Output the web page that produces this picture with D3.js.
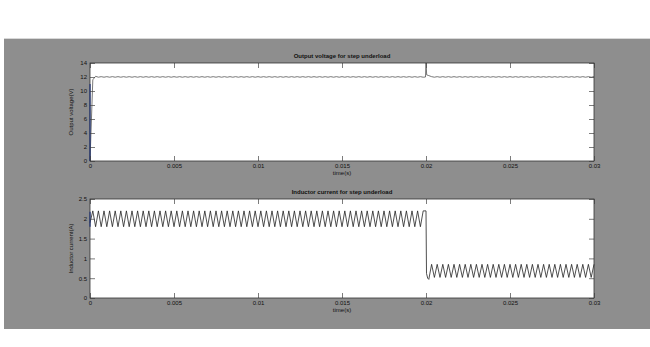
<!DOCTYPE html>
<html>
<head>
<meta charset="utf-8">
<script src="https://cdn.jsdelivr.net/npm/d3@7"></script>
<style>
  body { margin: 0; background: #fff; }
  svg { display: block; font-family: "Liberation Sans", Arial, sans-serif; }
</style>
</head>
<body>
<svg id="chart" width="650" height="347"></svg>
<script>
// simulation samples, one per half switching period
const sampleStep = 0.03 / 180;
const xTicks = [0, 0.005, 0.01, 0.015, 0.02, 0.025, 0.03];
const voltageTicks = [0, 2, 4, 6, 8, 10, 12, 14];
const currentTicks = [0, 0.5, 1, 1.5, 2, 2.5];

const voltage = [
  0, 11.6, 12.1, 11.97, 12.05, 11.97, 12.05, 11.97, 12.05, 11.97, 12.05, 11.97, 12.05, 11.97, 12.05, 11.97, 12.05, 11.97, 12.05, 11.97,
  12.05, 11.97, 12.05, 11.97, 12.05, 11.97, 12.05, 11.97, 12.05, 11.97, 12.05, 11.97, 12.05, 11.97, 12.05, 11.97, 12.05, 11.97, 12.05, 11.97,
  12.05, 11.97, 12.05, 11.97, 12.05, 11.97, 12.05, 11.97, 12.05, 11.97, 12.05, 11.97, 12.05, 11.97, 12.05, 11.97, 12.05, 11.97, 12.05, 11.97,
  12.05, 11.97, 12.05, 11.97, 12.05, 11.97, 12.05, 11.97, 12.05, 11.97, 12.05, 11.97, 12.05, 11.97, 12.05, 11.97, 12.05, 11.97, 12.05, 11.97,
  12.05, 11.97, 12.05, 11.97, 12.05, 11.97, 12.05, 11.97, 12.05, 11.97, 12.05, 11.97, 12.05, 11.97, 12.05, 11.97, 12.05, 11.97, 12.05, 11.97,
  12.05, 11.97, 12.05, 11.97, 12.05, 11.97, 12.05, 11.97, 12.05, 11.97, 12.05, 11.97, 12.05, 11.97, 12.05, 11.97, 12.05, 11.97, 12.05, 11.97,
  14.0, 12.2, 12.05, 11.97, 12.05, 11.97, 12.05, 11.97, 12.05, 11.97, 12.05, 11.97, 12.05, 11.97, 12.05, 11.97, 12.05, 11.97, 12.05, 11.97,
  12.05, 11.97, 12.05, 11.97, 12.05, 11.97, 12.05, 11.97, 12.05, 11.97, 12.05, 11.97, 12.05, 11.97, 12.05, 11.97, 12.05, 11.97, 12.05, 11.97,
  12.05, 11.97, 12.05, 11.97, 12.05, 11.97, 12.05, 11.97, 12.05, 11.97, 12.05, 11.97, 12.05, 11.97, 12.05, 11.97, 12.05, 11.97, 12.05, 11.97,
  12.05
];

const current = [
  1.9, 2.2, 1.8, 2.2, 1.8, 2.2, 1.8, 2.2, 1.8, 2.2, 1.8, 2.2, 1.8, 2.2, 1.8, 2.2, 1.8, 2.2, 1.8, 2.2,
  1.8, 2.2, 1.8, 2.2, 1.8, 2.2, 1.8, 2.2, 1.8, 2.2, 1.8, 2.2, 1.8, 2.2, 1.8, 2.2, 1.8, 2.2, 1.8, 2.2,
  1.8, 2.2, 1.8, 2.2, 1.8, 2.2, 1.8, 2.2, 1.8, 2.2, 1.8, 2.2, 1.8, 2.2, 1.8, 2.2, 1.8, 2.2, 1.8, 2.2,
  1.8, 2.2, 1.8, 2.2, 1.8, 2.2, 1.8, 2.2, 1.8, 2.2, 1.8, 2.2, 1.8, 2.2, 1.8, 2.2, 1.8, 2.2, 1.8, 2.2,
  1.8, 2.2, 1.8, 2.2, 1.8, 2.2, 1.8, 2.2, 1.8, 2.2, 1.8, 2.2, 1.8, 2.2, 1.8, 2.2, 1.8, 2.2, 1.8, 2.2,
  1.8, 2.2, 1.8, 2.2, 1.8, 2.2, 1.8, 2.2, 1.8, 2.2, 1.8, 2.2, 1.8, 2.2, 1.8, 2.2, 1.8, 2.2, 1.8, 2.2,
  2.2, 0.47, 0.85, 0.52, 0.85, 0.52, 0.85, 0.52, 0.85, 0.52, 0.85, 0.52, 0.85, 0.52, 0.85, 0.52, 0.85, 0.52, 0.85, 0.52,
  0.85, 0.52, 0.85, 0.52, 0.85, 0.52, 0.85, 0.52, 0.85, 0.52, 0.85, 0.52, 0.85, 0.52, 0.85, 0.52, 0.85, 0.52, 0.85, 0.52,
  0.85, 0.52, 0.85, 0.52, 0.85, 0.52, 0.85, 0.52, 0.85, 0.52, 0.85, 0.52, 0.85, 0.52, 0.85, 0.52, 0.85, 0.52, 0.85, 0.52,
  0.85
];

// extra fine samples around the load step at t = 0.02
const voltageStepTimes = [0.01997, 0.02004];
const voltageStepValues = [12.0, 12.3];
const currentStepTimes = [0.02003, 0.0201];
const currentStepValues = [0.62, 0.5];

// blue start-up trace at t = 0
const voltageStart = [0, 11];
const currentStart = [1.8, 2.18];

const svg = d3.select('#chart');

svg.append('rect')
  .attr('x', 4).attr('y', 39)
  .attr('width', 646).attr('height', 290)
  .attr('fill', '#8e8e8e');
svg.append('line')
  .attr('x1', 4).attr('x2', 650).attr('y1', 38.5).attr('y2', 38.5)
  .attr('stroke', '#d8d8d8');

const left = 90, right = 594;

const xScale = d3.scaleLinear().domain([0, 0.03]).range([left, right]);
const fmt = d3.format('~g');

function samples(values, extraTimes, extraValues) {
  const pts = values.map((v, i) => ({ t: i * sampleStep, v }));
  extraTimes.forEach((t, i) => pts.push({ t, v: extraValues[i] }));
  return pts.sort((a, b) => a.t - b.t);
}

function drawPanel(cfg) {
  const yScale = d3.scaleLinear().domain(cfg.domain).range([cfg.bottom, cfg.top]);
  const g = svg.append('g');

  g.append('rect')
    .attr('x', left).attr('y', cfg.top)
    .attr('width', right - left).attr('height', cfg.bottom - cfg.top)
    .attr('fill', '#fff');

  const line = d3.line()
    .x(d => xScale(d.t))
    .y(d => yScale(d.v));

  g.append('path')
    .datum(cfg.points)
    .attr('fill', 'none')
    .attr('stroke', cfg.color)
    .attr('stroke-width', 0.8)
    .attr('d', line);

  g.append('path')
    .datum(cfg.start)
    .attr('fill', 'none')
    .attr('stroke', '#1f3fa8')
    .attr('stroke-width', 1.3)
    .attr('d', d3.line().x(() => xScale(0)).y(d => yScale(d)));

  const styleAxis = sel => {
    sel.select('.domain').remove();
    sel.selectAll('line').attr('stroke', '#444').attr('stroke-width', 0.7);
    sel.selectAll('text').attr('fill', '#111').style('font-size', '6px');
  };

  g.append('g')
    .attr('transform', `translate(0,${cfg.bottom})`)
    .call(d3.axisBottom(xScale).tickValues(xTicks).tickFormat(fmt).tickSize(-5).tickPadding(3))
    .call(styleAxis);
  g.append('g')
    .attr('transform', `translate(0,${cfg.top})`)
    .call(d3.axisTop(xScale).tickValues(xTicks).tickFormat('').tickSize(-5))
    .call(styleAxis);
  g.append('g')
    .attr('transform', `translate(${left},0)`)
    .call(d3.axisLeft(yScale).tickValues(cfg.ticks).tickFormat(fmt).tickSize(-5).tickPadding(3))
    .call(styleAxis);
  g.append('g')
    .attr('transform', `translate(${right},0)`)
    .call(d3.axisRight(yScale).tickValues(cfg.ticks).tickFormat('').tickSize(-5))
    .call(styleAxis);

  g.append('rect')
    .attr('x', left).attr('y', cfg.top)
    .attr('width', right - left).attr('height', cfg.bottom - cfg.top)
    .attr('fill', 'none')
    .attr('stroke', '#333')
    .attr('stroke-width', 0.8);

  g.append('text')
    .attr('x', (left + right) / 2)
    .attr('y', cfg.top - 5)
    .attr('text-anchor', 'middle')
    .style('font-size', '6px')
    .style('font-weight', 'bold')
    .attr('fill', '#111')
    .text(cfg.title);

  g.append('text')
    .attr('x', (left + right) / 2)
    .attr('y', cfg.bottom + 14)
    .attr('text-anchor', 'middle')
    .style('font-size', '6px')
    .attr('fill', '#111')
    .text('time(s)');

  g.append('text')
    .attr('transform', `translate(${left - 17},${(cfg.top + cfg.bottom) / 2}) rotate(-90)`)
    .attr('text-anchor', 'middle')
    .style('font-size', '6px')
    .attr('fill', '#111')
    .text(cfg.yLabel);
}

drawPanel({
  top: 63, bottom: 161,
  domain: [0, 14], ticks: voltageTicks,
  points: samples(voltage, voltageStepTimes, voltageStepValues),
  start: voltageStart, color: '#555',
  title: 'Output voltage for step underload',
  yLabel: 'Output voltage(V)'
});

drawPanel({
  top: 199, bottom: 298,
  domain: [0, 2.5], ticks: currentTicks,
  points: samples(current, currentStepTimes, currentStepValues),
  start: currentStart, color: '#222',
  title: 'Inductor current for step underload',
  yLabel: 'Inductor current(A)'
});
</script>
</body>
</html>
